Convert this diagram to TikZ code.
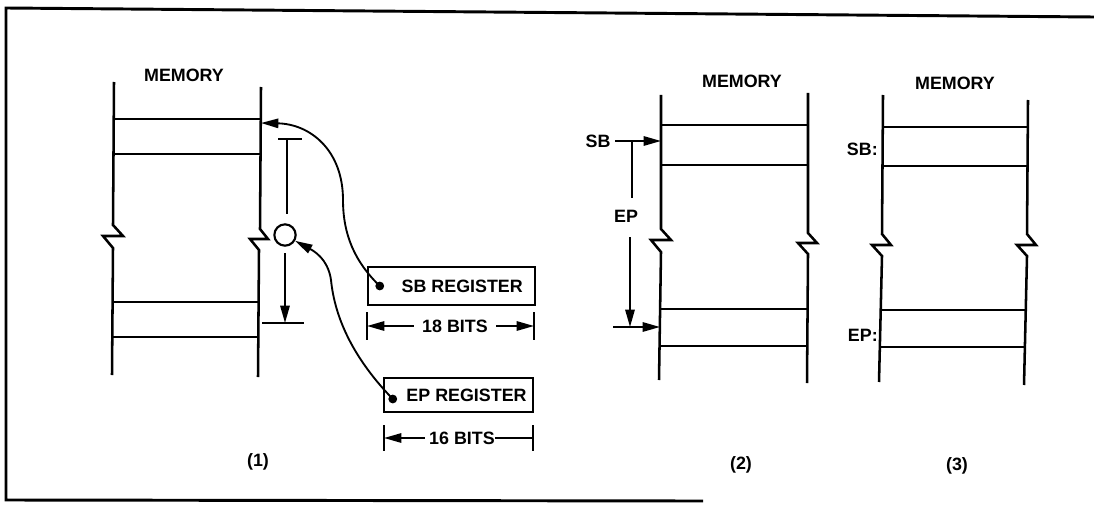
\documentclass[tikz,border=0pt]{standalone}
\usepackage{fontspec}
\setmainfont{Liberation Sans}
\usetikzlibrary{arrows.meta}
\tikzset{
  lbl/.style={font=\fontsize{13.4}{16}\selectfont\bfseries, inner sep=0pt},
  mem/.style={line width=1.9pt},
  thin/.style={line width=1.4pt},
  arr/.style={line width=1.4pt, -{Triangle[length=13pt,width=7pt]}},
  regbox/.style={draw, line width=1.6pt, inner sep=0pt, font=\fontsize{13.4}{16}\selectfont\bfseries},
  frame/.style={line width=2.2pt},
}
\begin{document}
\begin{tikzpicture}[x=0.75pt,y=-0.75pt]
\useasboundingbox (0,0) rectangle (1094,506);
% frame
\draw[frame] (703,501) -- (6,500) -- (6,8) -- (1094,17);

% ---------- panel 1 ----------
\node[lbl] (mem1) at (184,75) {MEMORY};
\draw[mem] (114,82) -- (113,225) -- ++(10,11) -- ++(-20,0) -- ++(10,12) -- (112,375);
\draw[mem] (261,87) -- (260,229) -- ++(8,10) -- ++(-18,0) -- ++(9,11) -- (258,377);
\draw[mem] (114,119) -- (261,119);
\draw[mem] (113,154) -- (260,154);
\draw[mem] (112,302) -- (259,302);
\draw[mem] (112,337) -- (258,337);

\coordinate (sbtip) at (261,123);
\coordinate (d1top) at (287,139);
\draw[thin] (278,139) -- (302,139);
\draw[thin] (d1top) -- (287,214);
\node[draw, circle, line width=1.6pt, minimum size=16pt, inner sep=0pt] (circ) at (285,235) {};
\coordinate (d1a) at (285,253);
\coordinate (d1b) at (285,323);
\draw[arr] (d1a) -- (d1b);
\draw[thin] (262,323) -- (304,323);

% registers
\node[regbox, minimum width=125pt, minimum height=28.5pt] (sbreg) at (451.5,286) {\hspace*{1.2em}SB REGISTER};
\node[regbox, minimum width=112pt, minimum height=25.5pt] (epreg) at (458.5,395) {\hspace*{0.9em}EP REGISTER};
\fill ([xshift=9.5pt]sbreg.west) circle (3.3pt) coordinate (sbdot);
\fill ([xshift=7.5pt,yshift=-3pt]epreg.west) circle (3.3pt) coordinate (epdot);

\draw[arr] (sbdot) .. controls (355,262) and (343,235) .. (343,200)
  .. controls (343,150) and (310,124) .. (sbtip);
\draw[arr] (epdot) .. controls (355,360) and (335,320) .. (331,280)
  .. controls (328,258) and (312,250) .. (circ.-30);

% 18 bits
\coordinate (t18l) at (367,326);
\coordinate (t18r) at (534,326);
\draw[thin] (367,312) -- (367,340);
\draw[thin] (534,312) -- (534,340);
\node[lbl] (b18) at (455,326) {18 BITS};
\draw[arr] ([xshift=-6pt]b18.west) -- (t18l);
\draw[arr] ([xshift=6pt]b18.east) -- (t18r);

% 16 bits
\coordinate (t16l) at (384,438);
\coordinate (t16r) at (533,438);
\draw[thin] (384,425) -- (384,451);
\draw[thin] (533,425) -- (533,451);
\node[lbl] (b16) at (462,438) {16 BITS};
\draw[arr] ([xshift=-3pt]b16.west) -- (t16l);
\draw[thin] (b16.east) -- (t16r);

\node[lbl] (n1) at (258,462) {(1)};

% ---------- panel 2 ----------
\node[lbl] (mem2) at (742,81) {MEMORY};
\draw[mem] (661,95) -- (661,229) -- ++(10,11) -- ++(-20,0) -- ++(10,12) -- (659,380);
\draw[mem] (808,93) -- (808,233) -- ++(9,10) -- ++(-19,0) -- ++(10,11) -- (807,383);
\draw[mem] (661,125) -- (808,125);
\draw[mem] (661,165) -- (808,165);
\draw[mem] (660,309) -- (807,309);
\draw[mem] (659,346) -- (807,346);

\node[lbl] (sb2) at (598,141) {SB};
\coordinate (sb2tip) at (661,141);
\draw[arr] (615,141) -- (sb2tip);
\draw[thin] (632,141) -- (632,198);
\node[lbl] (ep2) at (626,216) {EP};
\coordinate (ep2a) at (630,237);
\coordinate (ep2b) at (630,327);
\draw[arr] (ep2a) -- (ep2b);
\coordinate (ep2tip) at (660,327);
\draw[arr] (613,327) -- (ep2tip);

\node[lbl] (n2) at (741,465) {(2)};

% ---------- panel 3 ----------
\node[lbl] (mem3) at (955,83) {MEMORY};
\draw[mem] (883,95) -- (882,234) -- ++(9,11) -- ++(-19,0) -- ++(10,11) -- (879,382);
\draw[mem] (1028,100) -- (1027,234) -- ++(9,11) -- ++(-19,0) -- ++(10,11) -- (1024,385);
\draw[mem] (883,127) -- (1028,127);
\draw[mem] (882,166) -- (1027,166);
\draw[mem] (880,310) -- (1025,310);
\draw[mem] (880,347) -- (1025,347);

\node[lbl, anchor=east] (sb3) at (878,149) {SB:};
\node[lbl, anchor=east] (ep3) at (878,335) {EP:};

\node[lbl] (n3) at (957,466) {(3)};
\end{tikzpicture}
\end{document}
